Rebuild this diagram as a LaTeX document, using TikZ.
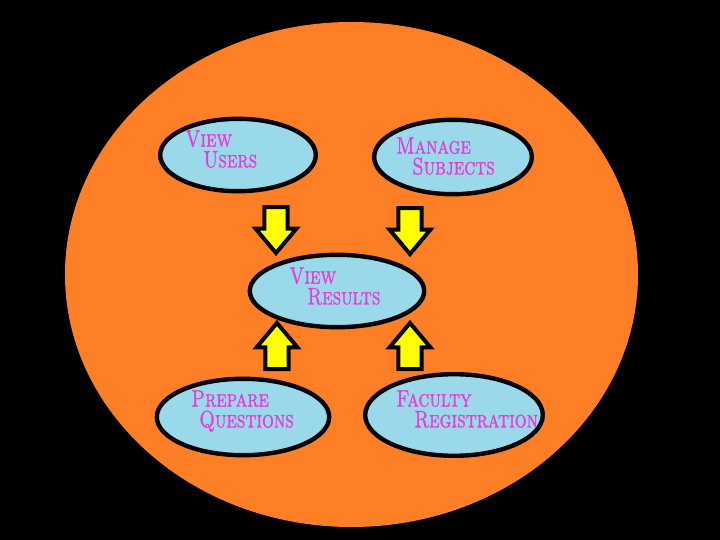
\documentclass[tikz,border=0pt]{standalone}
\usepackage{fontspec}
\usepackage{tikz}
\usetikzlibrary{shapes.geometric}
\usetikzlibrary{shapes.arrows}
\newfontfamily\capsfont[FakeStretch=0.78,FakeBold=1]{lmromancaps10-regular.otf}
\definecolor{orange}{HTML}{FF7F27}
\definecolor{blue}{HTML}{99D9EA}
\definecolor{pink}{HTML}{E83BD8}
\definecolor{yellow}{HTML}{FFFF00}

\begin{document}
\begin{tikzpicture}[x=0.25mm,y=-0.25mm,
      usecase/.style={ellipse, draw=black, fill=blue, line width=1.1mm, inner sep=0pt},
      caption/.style={anchor=north west, align=left, inner sep=0pt, text=pink,
        font=\capsfont\fontsize{17}{14.8}\selectfont},
      fatarrow/.style={single arrow, draw=black, fill=yellow, line width=1mm,
        inner sep=2.4mm, single arrow head extend=2.2mm, single arrow tip angle=80,
        minimum height=11.5mm, anchor=tail}]
      \fill [black] (0,0) rectangle (720,540);
      \fill [orange] (351.5,274.5) ellipse [x radius=286.5, y radius=252.5];
      \node [usecase, minimum width=38.9mm, minimum height=18.1mm] (vu) at (238,155) {};
      \node [usecase, minimum width=39.4mm, minimum height=18.6mm] (ms) at (453,157) {};
      \node [usecase, minimum width=43.6mm, minimum height=18.1mm] (vr) at (337,291) {};
      \node [usecase, minimum width=43.1mm, minimum height=19.1mm] (pq) at (243,417) {};
      \node [usecase, minimum width=44.4mm, minimum height=20.4mm] (fr) at (454,415) {};
      \node [caption] (vut) at ([shift={(-53,-25)}]vu.center) {View\\\hspace*{4.5mm}Users};
      \node [caption] (mst) at ([shift={(-57,-20)}]ms.center) {Manage\\\hspace*{4mm}Subjects};
      \node [caption] (vrt) at ([shift={(-48,-24)}]vr.center) {View\\\hspace*{4.5mm}Results};
      \node [caption] (pqt) at ([shift={(-52,-27)}]pq.center) {Prepare\\\hspace*{2mm}Questions};
      \node [caption] (frt) at ([shift={(-58,-25)}]fr.center) {Faculty\\\hspace*{4.5mm}Registration};
      \node [fatarrow, rotate=-90] (a1) at (276,205) {};
      \node [fatarrow, rotate=-90] (a2) at (410,206) {};
      \node [fatarrow, rotate=90] (a3) at (277,371) {};
      \node [fatarrow, rotate=90] (a4) at (410,371) {};
    \end{tikzpicture}
\end{document}
